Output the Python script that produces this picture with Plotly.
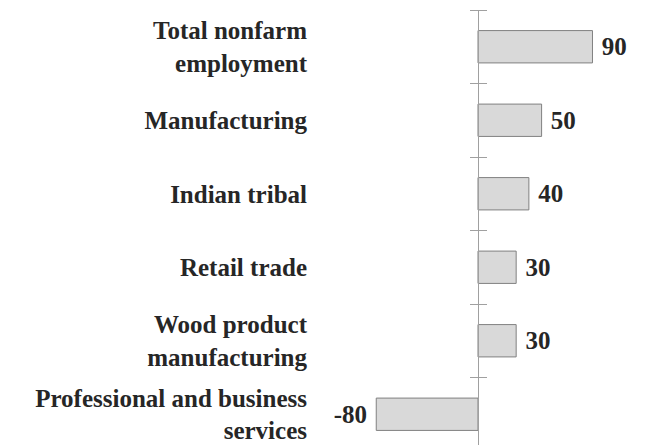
import plotly.graph_objects as go

categories = ["Total nonfarm<br>employment", "Manufacturing", "Indian tribal",
              "Retail trade", "Wood product<br>manufacturing",
              "Professional and business<br>services"]
values = [90, 50, 40, 30, 30, -80]

positions = list(range(len(categories)))
boundaries = [p - 0.5 for p in positions] + [len(categories) - 0.5]
NB = "\u00a0"
labels = [f"{NB}{v}" if v >= 0 else f"{v}{NB}" for v in values]

FONT = "Liberation Serif"
TXT = "#262626"
AX = "#a0a0a0"

# page body adds an 8px offset; the figure is sized to fill the rest
W, H = 638, 437
ML, MR, MT, MB = 304, 0, 2, 0
px_per_unit = 1.272
zero_px = 470
xmin = -(zero_px - ML) / px_per_unit
xmax = (W - MR - zero_px) / px_per_unit
zero_frac = (0 - xmin) / (xmax - xmin)
cat_px = 73.5
yr = [-0.5 + (H - MT - MB) / cat_px, -0.5]

fig = go.Figure()
fig.add_bar(
    x=values, y=positions, orientation="h", width=0.44,
    marker=dict(color="#d9d9d9", line=dict(color="#808080", width=1)),
    text=labels, textposition="outside",
    textfont=dict(family=FONT, size=25, color=TXT, weight="bold"),
    cliponaxis=False, hoverinfo="skip",
)

common = dict(range=yr, showgrid=False, zeroline=False)
fig.update_layout(
    width=W, height=H, margin=dict(l=ML, r=MR, t=MT, b=MB),
    plot_bgcolor="white", paper_bgcolor="white", showlegend=False,
    xaxis=dict(range=[xmin, xmax], visible=False, fixedrange=True),
    yaxis=dict(tickmode="array", tickvals=positions, ticktext=categories,
               ticks="", showline=False, ticklabelstandoff=4,
               tickfont=dict(family=FONT, size=25, color=TXT, weight="bold"),
               **common),
    yaxis2=dict(overlaying="y", anchor="free", position=zero_frac, side="left",
                tickmode="array", tickvals=boundaries, ticks="outside",
                ticklen=8, tickwidth=1, tickcolor=AX, showline=True,
                linecolor=AX, linewidth=1, showticklabels=False, **common),
    yaxis3=dict(overlaying="y", anchor="free", position=zero_frac, side="right",
                tickmode="array", tickvals=boundaries, ticks="outside",
                ticklen=8, tickwidth=1, tickcolor=AX, showline=False,
                showticklabels=False, **common),
)
# invisible traces to activate the overlay axes
fig.add_scatter(x=[None], y=[None], yaxis="y2", showlegend=False)
fig.add_scatter(x=[None], y=[None], yaxis="y3", showlegend=False)

fig.write_html("out.html")
